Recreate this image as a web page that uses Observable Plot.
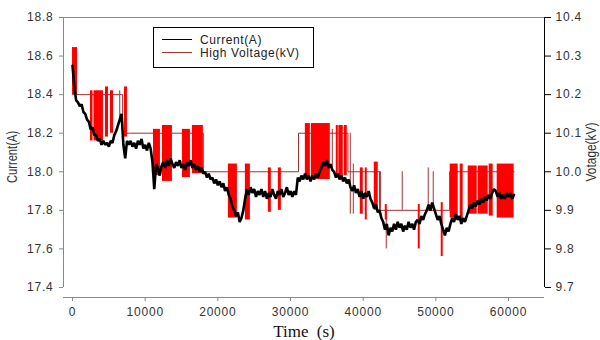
<!DOCTYPE html>
<html>
<head>
<meta charset="utf-8">
<script src="https://cdn.jsdelivr.net/npm/d3@7"></script>
<script src="https://cdn.jsdelivr.net/npm/@observablehq/plot@0.6"></script>
<style>
  html, body { margin: 0; padding: 0; background: #fff; }
  #chart { width: 600px; height: 340px; }
</style>
</head>
<body>
<div id="chart"></div>
<script>
// ---- Current (A), sampled every 250 s from t = 0 ----
const sampleStep = 250;
const current = [
  18.55,18.44,18.37,18.36,18.34,18.35,18.31,18.30,18.27,18.26,
  18.22,18.23,18.19,18.19,18.16,18.17,18.14,18.16,18.14,18.15,
  18.13,18.16,18.15,18.19,18.21,18.24,18.27,18.30,18.14,18.07,
  18.16,18.14,18.16,18.13,18.15,18.12,18.16,18.14,18.17,18.12,
  18.14,18.11,18.15,18.12,18.05,17.91,18.04,18.02,17.98,18.03,
  18.05,18.02,18.06,18.03,18.07,18.04,18.02,18.05,18.03,18.06,
  18.02,18.04,18.01,18.05,18.03,18.06,18.02,18.04,18.01,18.03,
  18.00,18.02,17.99,18.00,17.97,17.99,17.96,17.97,17.94,17.96,
  17.93,17.95,17.92,17.94,17.90,17.92,17.88,17.86,17.82,17.80,
  17.77,17.79,17.74,17.76,17.80,17.86,17.91,17.88,17.92,17.89,
  17.91,17.87,17.90,17.88,17.91,17.87,17.90,17.86,17.89,17.87,
  17.91,17.88,17.86,17.90,17.88,17.91,17.87,17.89,17.92,17.88,
  17.90,17.87,17.90,17.88,17.97,17.95,17.98,17.96,17.99,17.96,
  17.98,17.95,17.98,17.96,17.99,17.97,18.00,18.02,18.05,18.03,
  18.06,18.02,18.04,18.01,18.00,17.97,17.99,17.96,17.98,17.95,
  17.97,17.94,17.96,17.92,17.90,17.93,17.89,17.91,17.87,17.90,
  17.86,17.89,17.87,17.90,17.86,17.84,17.81,17.83,17.79,17.80,
  17.76,17.74,17.70,17.73,17.67,17.71,17.69,17.73,17.70,17.74,
  17.71,17.73,17.69,17.72,17.70,17.74,17.71,17.73,17.70,17.74,
  17.75,17.73,17.77,17.75,17.78,17.80,17.83,17.80,17.84,17.81,
  17.78,17.75,17.77,17.73,17.70,17.67,17.71,17.69,17.73,17.76,
  17.74,17.78,17.75,17.77,17.73,17.76,17.74,17.77,17.80,17.83,
  17.81,17.84,17.82,17.85,17.83,17.86,17.84,17.87,17.85,17.88,
  17.86,17.89,17.91,17.90,17.87,17.89,17.86,17.88,17.86,17.89,
  17.87,17.89,17.86,17.88
];

// ---- High voltage (kV): set-point steps ----
const hvStepTimes = [0, 6900, 18000, 31100, 37900, 42400, 51900, 60800];
const hvStepVolts = [10.2, 10.1, 10.0, 10.1, 10.0, 9.9, 10.0, 10.0];

// ---- High voltage (kV): rapid oscillation bursts ----
const burstStart = [0, 2475, 2955, 4540, 5225, 7150, 11140, 12375, 15125, 16500,
  21450, 23790, 26950, 28325, 32040, 32870, 36300, 36650, 37400, 39600,
  40290, 41525, 43040, 47575, 50740, 51975, 53350, 54450, 55825, 57340, 58440];
const burstEnd = [690, 2820, 4260, 4950, 5640, 7560, 12100, 13750, 16225, 18010,
  22690, 24475, 27360, 28740, 32730, 35475, 36575, 37260, 37810, 40010,
  40560, 42075, 43310, 47850, 51010, 53075, 53760, 55690, 57200, 57890, 60775];
const burstLow = [10.2, 10.08, 10.08, 10.09, 10.10, 10.09, 9.99, 9.975, 9.985, 9.995,
  9.88, 9.875, 9.895, 9.90, 9.985, 9.98, 9.99, 9.985, 9.99, 9.89,
  9.875, 9.90, 9.875, 9.80, 9.78, 9.88, 9.875, 9.89, 9.89, 9.885, 9.88];
const burstHigh = [10.322, 10.21, 10.21, 10.22, 10.21, 10.22, 10.11, 10.12, 10.11, 10.12,
  10.02, 10.02, 10.01, 10.01, 10.125, 10.125, 10.12, 10.12, 10.12, 10.01,
  10.01, 10.025, 9.915, 9.915, 9.92, 10.02, 10.02, 10.015, 10.015, 10.02, 10.02];

// ---- High voltage (kV): single spikes ----
const spikeTime = [6500, 35750, 38225, 38640, 42250, 43175, 45375, 48950, 49640];
const spikeLow  = [10.14, 10.0, 9.89, 9.89, 9.89, 9.80, 9.9, 9.9, 9.9];
const spikeHigh = [10.21, 10.11, 10.1, 10.02, 10.0, 9.9, 10.0, 10.01, 10.0];

// ---- Axes ----
const xTicks = [0, 10000, 20000, 30000, 40000, 50000, 60000];
const currentTicks = [17.4, 17.6, 17.8, 18.0, 18.2, 18.4, 18.6, 18.8];
const voltTicks = [9.7, 9.8, 9.9, 10.0, 10.1, 10.2, 10.3, 10.4];
const xDomain = [-1240, 64950];
const yDomain = [17.348, 18.8];

// voltage -> current-axis position (10.4 kV <-> 18.8 A, 9.7 kV <-> 17.4 A)
const v2c = v => 2 * v - 2;
const c2v = c => (c + 2) / 2;

const currentData = current.map((c, i) => ({t: i * sampleStep, c}));
const stepData = hvStepTimes.map((t, i) => ({t, v: hvStepVolts[i]}));
const burstData = burstStart.map((t, i) => ({t1: t, t2: burstEnd[i], lo: burstLow[i], hi: burstHigh[i]}));
const spikeData = spikeTime.map((t, i) => ({t, lo: spikeLow[i], hi: spikeHigh[i]}));

const thinRed = "#a03232";
const chart = Plot.plot({
  width: 600,
  height: 340,
  marginLeft: 63,
  marginRight: 56,
  marginTop: 17,
  marginBottom: 43,
  x: {type: "linear", domain: xDomain},
  y: {type: "linear", domain: yDomain},
  style: {
    fontFamily: "'Liberation Sans', Arial, sans-serif",
    fontSize: "12px",
    letterSpacing: "0.8px",
    color: "#333",
    background: "#fff"
  },
  marks: [
    Plot.line(stepData, {x: "t", y: d => v2c(d.v), curve: "step-after", stroke: thinRed, strokeWidth: 1}),
    Plot.ruleX(spikeData, {x: "t", y1: d => v2c(d.lo), y2: d => v2c(d.hi), stroke: thinRed, strokeWidth: 1}),
    Plot.rect(burstData, {x1: "t1", x2: "t2", y1: d => v2c(d.lo), y2: d => v2c(d.hi), fill: "#f00"}),
    Plot.line(currentData, {x: "t", y: "c", stroke: "#000", strokeWidth: 2.6, strokeLinejoin: "bevel"}),
    // frame lines
    Plot.ruleY([yDomain[1]], {stroke: "#888"}),
    Plot.ruleY([yDomain[0]], {stroke: "#888"}),
    Plot.ruleX([xDomain[0]], {y1: currentTicks[0], y2: currentTicks[currentTicks.length - 1], stroke: "#888"}),
    Plot.ruleX([xDomain[1]], {y1: currentTicks[0], y2: currentTicks[currentTicks.length - 1], stroke: "#000"}),
    Plot.axisX({ticks: xTicks, tickFormat: d3.format("d"), tickSize: 4, tickPadding: 6, label: null, stroke: "#888"}),
    Plot.axisY({anchor: "left", ticks: currentTicks, tickFormat: d3.format(".1f"), tickSize: 4, tickPadding: 6, label: null, stroke: "#888"}),
    Plot.axisY({anchor: "right", ticks: voltTicks.map(v2c), tickFormat: d => c2v(d).toFixed(1), tickSize: 6, tickPadding: 5, label: null, stroke: "#000"})
  ]
});
document.getElementById("chart").appendChild(chart);

const svg = d3.select(chart);
// Axis titles
svg.append("text")
  .attr("transform", "translate(17,157) rotate(-90) scale(0.8,1)")
  .attr("text-anchor", "middle")
  .style("font-size", "14px").style("letter-spacing", "0px")
  .attr("fill", "#333").text("Current(A)");
svg.append("text")
  .attr("transform", "translate(596,152) rotate(-90) scale(0.85,1)")
  .attr("text-anchor", "middle")
  .style("font-size", "14px").style("letter-spacing", "0px")
  .attr("fill", "#333").text("Votage(kV)");
svg.append("text")
  .attr("x", 304).attr("y", 337)
  .attr("text-anchor", "middle")
  .style("font-family", "'Liberation Serif', 'Times New Roman', serif")
  .style("font-size", "17px").style("letter-spacing", "0px").style("word-spacing", "4px")
  .attr("fill", "#111").text("Time (s)");

// Legend
const lg = svg.append("g");
lg.append("rect").attr("x", 153.5).attr("y", 27.5).attr("width", 160).attr("height", 40)
  .attr("fill", "#fff").attr("stroke", "#000");
lg.append("line").attr("x1", 162).attr("x2", 192).attr("y1", 39.5).attr("y2", 39.5).attr("stroke", "#000");
lg.append("line").attr("x1", 162).attr("x2", 192).attr("y1", 52.5).attr("y2", 52.5).attr("stroke", thinRed);
lg.append("text").attr("x", 200).attr("y", 44).attr("text-anchor", "start").attr("fill", "#222")
  .style("letter-spacing", "0.6px").text("Current(A)");
lg.append("text").attr("x", 200).attr("y", 57).attr("text-anchor", "start").attr("fill", "#222")
  .style("letter-spacing", "0.6px").text("High Voltage(kV)");
</script>
</body>
</html>
